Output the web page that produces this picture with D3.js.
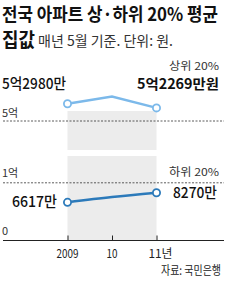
<!DOCTYPE html>
<html><head><meta charset="utf-8">
<script src="https://cdn.jsdelivr.net/npm/d3@7"></script>
<style>
html,body{margin:0;padding:0;background:#fff;}
svg{display:block;font-family:"Noto Sans CJK KR","Noto Sans",sans-serif;}
</style></head>
<body><svg id="c" width="240" height="291"></svg>
<script>
const years = ["2009", "10", "11"];
const yearLabels = ["2009", "10", "11년"];
const top20 = [52980, 54250, 52269];      // 만원
const bottom20 = [6617, 7520, 8270];      // 만원
const topLabels = ["5억2980만", "5억2269만원"];
const bottomLabels = ["6617만", "8270만"];
const upperTicks = [{v: 50000, t: "5억"}];
const lowerTicks = [{v: 10000, t: "1억"}, {v: 0, t: "0"}];

const svg = d3.select("#c");

function txt(x, y, s, o) {
  o = o || {};
  const t = svg.append("text").attr("x", x).attr("y", y).text(s)
    .attr("font-size", o.size || 12).attr("font-weight", o.weight || 400)
    .attr("fill", o.fill || "#222").attr("text-anchor", o.anchor || "start");
  if (o.len) t.attr("textLength", o.len).attr("lengthAdjust", "spacingAndGlyphs");
  return t;
}

// Title
txt(2, 21, "전국 아파트 상·하위 20% 평균", {size: 18.5, weight: 700, len: 216, fill: "#111"});
txt(2, 47, "집값", {size: 19, weight: 700, len: 33, fill: "#111"});
txt(38, 46, "매년 5월 기준. 단위: 원.", {size: 14, len: 135, fill: "#333"});

const x = d3.scalePoint().domain(years).range([67.5, 156.5]);
const pxPer = 57.7 / 10000;
const yUp = d3.scaleLinear().domain([50000, 55000]).range([121, 121 - 5000 * pxPer]);
const yLow = d3.scaleLinear().domain([0, 10000]).range([240.5, 240.5 - 10000 * pxPer]);

// gray band
const band = svg.append("g");
band.append("rect").attr("x", x(years[0])).attr("width", x(years[2]) - x(years[0]))
  .attr("y", 111).attr("height", 150 - 111).attr("fill", "#ececec");
band.append("rect").attr("x", x(years[0])).attr("width", x(years[2]) - x(years[0]))
  .attr("y", 156).attr("height", yLow(0) - 156).attr("fill", "#ececec");

// dashed gridlines
upperTicks.forEach(d => {
  svg.append("line").attr("x1", 3).attr("x2", 224).attr("y1", yUp(d.v)).attr("y2", yUp(d.v))
    .attr("stroke", "#333").attr("stroke-width", 0.8).attr("stroke-dasharray", "2,1.5");
  txt(2, yUp(d.v) - 4, d.t, {size: 11, fill: "#333"});
});
lowerTicks.forEach(d => {
  if (d.v > 0) {
    svg.append("line").attr("x1", 3).attr("x2", 224).attr("y1", yLow(d.v)).attr("y2", yLow(d.v))
      .attr("stroke", "#333").attr("stroke-width", 0.8).attr("stroke-dasharray", "2,1.5");
  }
  txt(2, yLow(d.v) - 6, d.t, {size: 11, fill: "#333"});
});

// x axis
const axis = svg.append("g").attr("transform", `translate(0,${yLow(0)})`)
  .call(d3.axisTop(x).tickSize(5).tickFormat(""));
axis.select(".domain").remove();
axis.selectAll(".tick line").attr("stroke", "#222");
svg.append("line").attr("x1", 3).attr("x2", 224).attr("y1", yLow(0)).attr("y2", yLow(0))
  .attr("stroke", "#222").attr("stroke-width", 1);
years.forEach((y, i) => {
  const lbl = yearLabels[i];
  if (i === 2) {
    txt(x(y) - 8, 258, lbl, {size: 12, fill: "#222", len: 24});
  } else {
    txt(x(y), 258, lbl, {size: 12, fill: "#222", anchor: "middle", len: i === 0 ? 22 : 11});
  }
});

// lines
const lineUp = d3.line().x((d, i) => x(years[i])).y(d => yUp(d));
svg.append("path").datum(top20).attr("d", lineUp).attr("fill", "none")
  .attr("stroke", "#7cb9ea").attr("stroke-width", 2.5);
svg.selectAll(".cu").data([0, 2]).enter().append("circle")
  .attr("cx", i => x(years[i])).attr("cy", i => yUp(top20[i])).attr("r", 3.6)
  .attr("fill", "#fff").attr("stroke", "#7cb9ea").attr("stroke-width", 1.8);

const lineLow = d3.line().curve(d3.curveMonotoneX).x((d, i) => x(years[i])).y(d => yLow(d));
svg.append("path").datum(bottom20).attr("d", lineLow).attr("fill", "none")
  .attr("stroke", "#2c7aba").attr("stroke-width", 2.5);
svg.selectAll(".cl").data([0, 2]).enter().append("circle")
  .attr("cx", i => x(years[i])).attr("cy", i => yLow(bottom20[i])).attr("r", 3.6)
  .attr("fill", "#fff").attr("stroke", "#2c7aba").attr("stroke-width", 1.8);

// annotations
txt(2, 89, topLabels[0], {size: 15, fill: "#111", len: 64, weight: 500});
txt(219, 70, "상위 20%", {size: 11, fill: "#333", anchor: "end", len: 50});
txt(219, 89, topLabels[1], {size: 14, fill: "#111", anchor: "end", len: 82, weight: 700});
txt(219, 176, "하위 20%", {size: 11, fill: "#333", anchor: "end", len: 50});
txt(217, 198, bottomLabels[1], {size: 15, fill: "#111", anchor: "end", len: 44, weight: 500});
txt(57, 207, bottomLabels[0], {size: 15, fill: "#111", anchor: "end", len: 45, weight: 500});

// source
txt(221, 275, "자료: 국민은행", {size: 12, fill: "#222", anchor: "end", len: 60});
</script></body></html>
